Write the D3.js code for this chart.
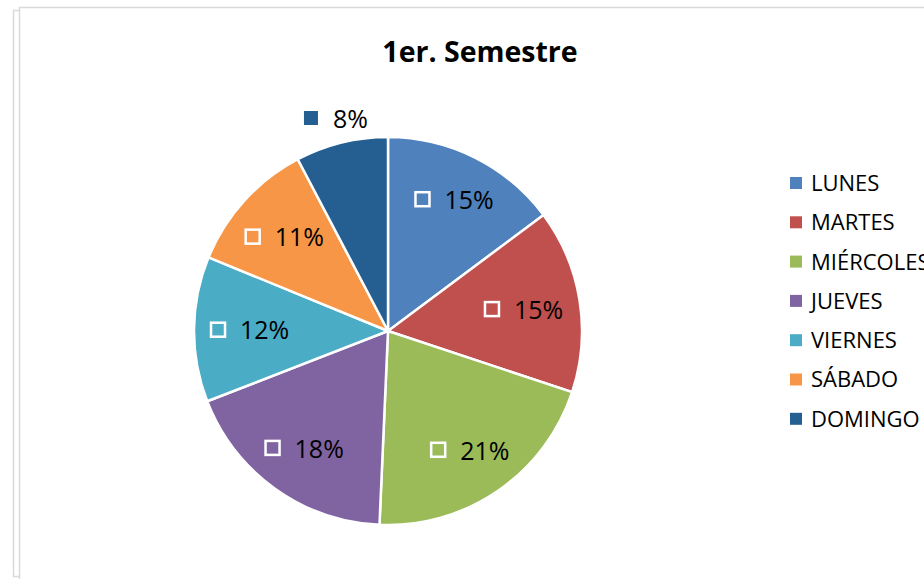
<!DOCTYPE html>
<html>
<head>
<meta charset="utf-8">
<script src="https://cdn.jsdelivr.net/npm/d3@7"></script>
<style>
  body { margin: 0; background: #fff; overflow: hidden; }
  svg { display: block; font-family: "Open Sans", sans-serif; }
</style>
</head>
<body>
<svg id="chart" width="924" height="579"></svg>
<script>
// data
var days = ["LUNES", "MARTES", "MIÉRCOLES", "JUEVES", "VIERNES", "SÁBADO", "DOMINGO"];
var shares = [14.8, 15.3, 20.6, 18.4, 12.1, 11.1, 7.7];
var colors = ["#4F81BD", "#C0504D", "#9BBB59", "#8064A2", "#4BACC6", "#F79646", "#255E91"];
var outsideLabel = [false, false, false, false, false, false, true];

var svg = d3.select("#chart");
var cx = 388, cy = 331, radius = 194;

// chart frame (bottom and right run off the picture)
svg.append("rect")
    .attr("x", 19.5).attr("y", 7.5)
    .attr("width", 1000).attr("height", 700)
    .attr("fill", "none").attr("stroke", "#d9d9d9").attr("stroke-width", 1.5);
svg.append("path")
    .attr("d", "M19,10.5 H13.5 V576.5 H19")
    .attr("fill", "none").attr("stroke", "#d9d9d9").attr("stroke-width", 1.5);

svg.append("text")
    .attr("x", 480).attr("y", 62)
    .attr("text-anchor", "middle")
    .attr("font-size", 28.5).attr("font-weight", "bold")
    .text("1er. Semestre");

var data = days.map(function(d, i) { return {day: d, value: shares[i], color: colors[i], outside: outsideLabel[i]}; });

var pie = d3.pie().sort(null).value(function(d) { return d.value; });
var arc = d3.arc().innerRadius(0).outerRadius(radius);

var g = svg.append("g").attr("transform", "translate(" + cx + "," + cy + ")");
var arcs = pie(data);

g.selectAll("path.slice")
    .data(arcs)
  .enter().append("path")
    .attr("class", "slice")
    .attr("d", arc)
    .attr("fill", function(d) { return d.data.color; })
    .attr("stroke", "#fff")
    .attr("stroke-width", 2.5);

var fmt = function(v) { return Math.round(v) + "%"; };

// distance t along unit vector u so that the box corner (cx,cy offset) lies at radius R
function placeAt(u, off, R) {
    var b = 2 * (u[0] * off[0] + u[1] * off[1]);
    var c = off[0] * off[0] + off[1] * off[1] - R * R;
    return (-b + Math.sqrt(b * b - 4 * c)) / 2;
}

var labels = g.selectAll("g.lbl")
    .data(arcs)
  .enter().append("g")
    .attr("class", "lbl");

labels.each(function(d) {
    var lg = d3.select(this);
    var t = lg.append("text")
        .attr("font-size", 25)
        .attr("fill", "#000")
        .attr("dy", "0.35em")
        .text(fmt(d.data.value));
    var tw = t.node().getComputedTextLength();
    var total = 14 + 16 + tw, hh = 12;
    var a = (d.startAngle + d.endAngle) / 2;
    var u = [Math.sin(a), -Math.cos(a)];
    var sx = u[0] >= 0 ? 1 : -1, sy = u[1] >= 0 ? 1 : -1;
    var dist;
    if (d.data.outside) {
        dist = placeAt(u, [-sx * total / 2, -sy * hh], radius + 8);
    } else {
        dist = placeAt(u, [sx * total / 2, sy * hh], radius * 0.92);
    }
    var pos = [u[0] * dist, u[1] * dist];
    var x0 = pos[0] - total / 2;
    lg.append("rect")
        .attr("x", x0 + 1).attr("y", pos[1] - 7)
        .attr("width", 14).attr("height", 14)
        .attr("fill", d.data.color)
        .attr("stroke", d.data.outside ? "none" : "#fff")
        .attr("stroke-width", 2.5);
    t.attr("x", x0 + 30).attr("y", pos[1] + 1);
});

// legend
var legend = svg.append("g").attr("transform", "translate(790,183)");
var rowH = 39.3;
var item = legend.selectAll("g")
    .data(data)
  .enter().append("g")
    .attr("transform", function(d, i) { return "translate(0," + (i * rowH) + ")"; });
item.append("rect")
    .attr("x", 0).attr("y", -6)
    .attr("width", 12).attr("height", 12)
    .attr("fill", function(d) { return d.color; });
item.append("text")
    .attr("x", 21).attr("dy", "0.36em")
    .attr("font-size", 22)
    .text(function(d) { return d.day; });
</script>
</body>
</html>
